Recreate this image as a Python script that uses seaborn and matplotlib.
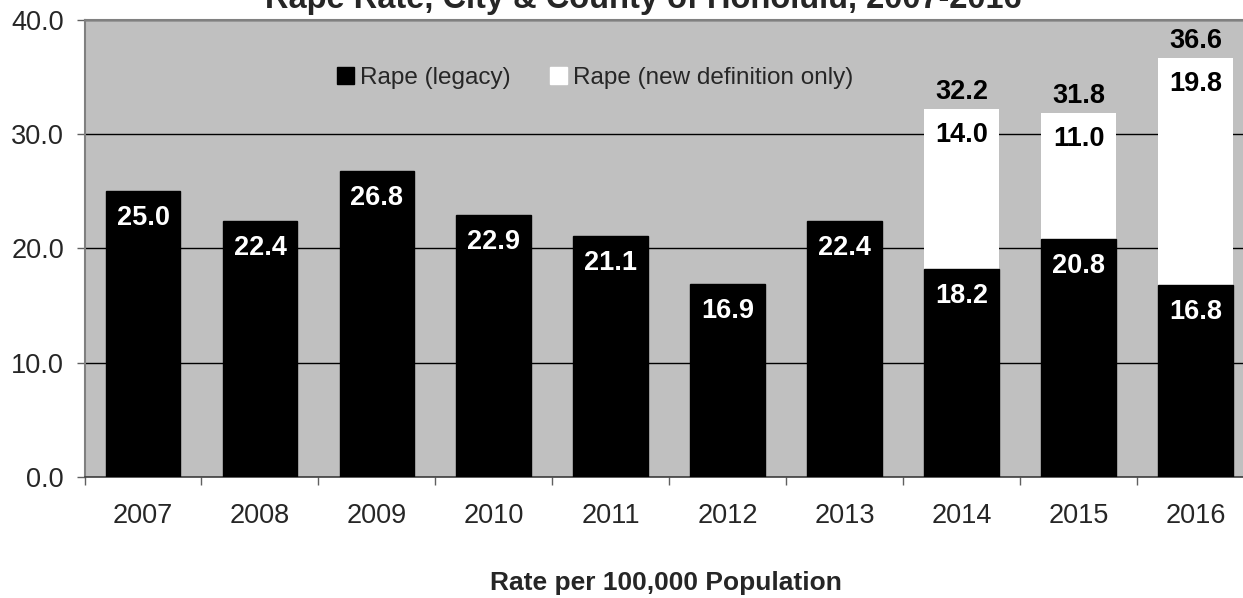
import matplotlib
matplotlib.use('Agg')
import matplotlib.pyplot as plt
import seaborn as sns
import pandas as pd
from matplotlib.ticker import FixedLocator, FormatStrFormatter
from matplotlib.patches import Patch

years = ['2007', '2008', '2009', '2010', '2011', '2012', '2013', '2014', '2015', '2016']
legacy = [25.0, 22.4, 26.8, 22.9, 21.1, 16.9, 22.4, 18.2, 20.8, 16.8]
new_def = [0, 0, 0, 0, 0, 0, 0, 14.0, 11.0, 19.8]
totals = [32.2, 31.8, 36.6]  # 2014-2016

df = pd.DataFrame({'year': years, 'legacy': legacy, 'new': new_def})
df['total'] = df['legacy'] + df['new']

sns.set_style('white')
plt.rcParams['font.family'] = ['Liberation Sans', 'DejaVu Sans']

fig = plt.figure(figsize=(12.43, 5.98), dpi=100)
ax = fig.add_axes([0.068, 0.2023, 0.941, 0.765])
ax.set_facecolor('#c0c0c0')

# white (new definition) stacked on top of black (legacy)
sns.barplot(x='year', y='total', data=df, color='white', width=0.64, saturation=1, ax=ax,
            linewidth=0, zorder=2)
sns.barplot(x='year', y='legacy', data=df, color='black', width=0.64, saturation=1, ax=ax,
            edgecolor='black', linewidth=1, zorder=3)

ax.set_ylim(0, 40)
ax.set_xlim(-0.5, 9.5)
ax.set_yticks([0, 10, 20, 30, 40])
ax.yaxis.set_major_formatter(FormatStrFormatter('%.1f'))
ax.grid(axis='y', color='black', linewidth=1, zorder=1)
ax.set_axisbelow(True)
ax.set_xlabel('')
ax.set_ylabel('')

for s in ['left', 'top', 'right']:
    ax.spines[s].set_color('#808080')
    ax.spines[s].set_linewidth(1.5)
ax.spines['bottom'].set_color('#404040')
ax.spines['bottom'].set_linewidth(1.2)

ax.tick_params(axis='y', direction='out', length=5.8, width=1, color='#606060', pad=9, labelsize=19.5, left=True)
ax.tick_params(axis='x', which='major', length=0, pad=18.5, labelsize=19.5)
ax.xaxis.set_minor_locator(FixedLocator([i - 0.5 for i in range(11)]))
ax.tick_params(axis='x', which='minor', direction='out', length=5.8, width=1, color='#606060', bottom=True)

# value labels
for i in range(len(years)):
    ax.annotate(f'{legacy[i]:.1f}', (i, legacy[i]), xytext=(0, -27), textcoords='offset pixels',
                ha='center', va='center', color='white', fontsize=19.5, fontweight='bold', zorder=5)
    if new_def[i] > 0:
        ax.annotate(f'{new_def[i]:.1f}', (i, df['total'][i]), xytext=(0, -26), textcoords='offset pixels',
                    ha='center', va='center', color='black', fontsize=19.5, fontweight='bold', zorder=5)
for j, t in enumerate(totals):
    i = 7 + j
    ax.annotate(f'{t:.1f}', (i, t), xytext=(0, 17), textcoords='offset pixels',
                ha='center', va='center', color='black', fontsize=19.5, fontweight='bold', zorder=5)

handles = [Patch(facecolor='black', edgecolor='black'), Patch(facecolor='white', edgecolor='white')]
ax.legend(handles, ['Rape (legacy)', 'Rape (new definition only)'], ncol=2, frameon=False,
          loc='center', bbox_to_anchor=(595 / 1243, 1 - 78 / 598), bbox_transform=fig.transFigure,
          fontsize=17.5, handlelength=0.7, handleheight=0.7, handletextpad=0.25, columnspacing=1.6)

fig.text(643 / 1243, 1 - 8 / 598, 'Rape Rate, City & County of Honolulu, 2007-2016', ha='center', va='baseline',
         fontsize=23.5, fontweight='bold')
fig.text(666 / 1243, 1 - 590 / 598, 'Rate per 100,000 Population', ha='center', va='baseline',
         fontsize=19, fontweight='bold')

fig.savefig('out.png', dpi=100)
